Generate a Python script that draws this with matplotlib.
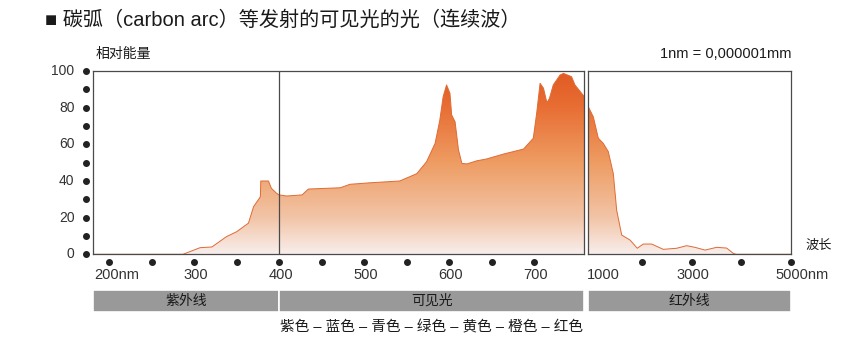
import matplotlib
matplotlib.use("Agg")
import matplotlib.pyplot as plt
from matplotlib.colors import LinearSegmentedColormap
from matplotlib.patches import Rectangle
import numpy as np

plt.rcParams['font.family'] = ['Liberation Sans', 'Noto Sans CJK SC']

# ultraviolet + visible part of the carbon arc spectrum (nm, relative energy)
uv_vis_nm = [181, 287, 307, 321, 338, 350, 364, 370, 378, 378.5, 387.5, 391, 397,
             400, 409, 427, 434.5, 472, 483.5, 507, 542, 562, 573.5, 583.5, 589,
             593, 597, 601, 603, 607, 611, 615, 621, 632.5, 644, 664, 687.5, 699,
             703, 707, 711, 715, 718, 722.5, 730.5, 734.5, 744, 748, 759]
uv_vis_energy = [0, 0, 3.6, 4, 9.6, 12.3, 17, 26, 31.4, 40, 40, 36, 33.3,
                 32.4, 31.8, 32.4, 35.6, 36.3, 38.2, 39, 40, 44, 50.5, 60.5, 73,
                 86, 92.4, 87.8, 76, 72.3, 57, 49.6, 49.3, 51, 52, 54.7, 57.4, 63.3,
                 77, 93.3, 90.6, 82.7, 85, 92.4, 97.8, 98.7, 96.9, 92.4, 86]

# infrared part
ir_nm = [915, 1016, 1117, 1217, 1318, 1419, 1487, 1588, 1755, 1902, 2023, 2192,
         2426, 2696, 2898, 3065, 3267, 3502, 3703, 3837, 3891, 5000]
ir_energy = [80.5, 75, 63.3, 60.5, 56, 44, 24, 10.5, 7.8, 3.3, 5.6, 5.6,
             2.7, 3.3, 4.7, 3.8, 2.3, 3.8, 3.4, 0.5, 0, 0]

y_labels = [0, 20, 40, 60, 80, 100]
y_dots = [0, 10, 20, 30, 40, 50, 60, 70, 80, 90, 100]

left_ticks = [200, 300, 400, 500, 600, 700]
left_tick_text = ['200nm', '300', '400', '500', '600', '700']
left_dots = [200, 250, 300, 350, 400, 450, 500, 550, 600, 650, 700]
right_ticks = [1000, 3000, 5000]
right_tick_text = ['1000', '3000', '5000nm']
right_dots = [2000, 3000, 4000, 5000]

band_names = ['紫外线', '可见光', '红外线']
band_spans = [(181, 400), (400, 759), (915, 5000)]
color_order = '紫色 – 蓝色 – 青色 – 绿色 – 黄色 – 橙色 – 红色'

grad = LinearSegmentedColormap.from_list(
    'arc', [(0.0, '#f8eeec'), (0.2, '#f2c4a6'), (0.5, '#eE9c62'),
            (0.8, '#e86e34'), (1.0, '#e05a22')])

fig = plt.figure(figsize=(8.5, 3.4), dpi=100)
W, H = 850, 340
bottom_px, top_px = 254.3, 71
ax1 = fig.add_axes([93.3 / W, 1 - bottom_px / H, (584.3 - 93.3) / W, (bottom_px - top_px) / H])
ax2 = fig.add_axes([588.3 / W, 1 - bottom_px / H, (791 - 588.3) / W, (bottom_px - top_px) / H])

frame = '#4a4a4a'
ink = '#1a1a1a'


def draw_spectrum(ax, nm, energy, xlim):
    ax.set_xlim(*xlim)
    ax.set_ylim(0, 100)
    poly = ax.fill_between(nm, energy, 0, color='none', lw=0)
    img = ax.imshow(np.linspace(0, 1, 256).reshape(-1, 1), cmap=grad, aspect='auto',
                    origin='lower', extent=(xlim[0], xlim[1], 0, 100), zorder=1)
    img.set_clip_path(poly.get_paths()[0], transform=ax.transData)
    ax.plot(nm, energy, color='#e06a34', lw=0.7, zorder=2)
    for s in ax.spines.values():
        s.set_color(frame)
        s.set_linewidth(0.9)
    ax.set_xticks([])
    ax.set_yticks([])


draw_spectrum(ax1, uv_vis_nm, uv_vis_energy, (181.5, 759))
draw_spectrum(ax2, ir_nm, ir_energy, (915, 5000))
ax1.axvline(400, color=frame, lw=0.9, zorder=3)

# y axis: dots + labels
ytr = ax1.get_yaxis_transform()
ax1.plot([-0.0155] * len(y_dots), y_dots, 'o', color='#222222', ms=4,
         transform=ytr, clip_on=False)
for v in y_labels:
    ax1.annotate(str(v), xy=(0, v), xycoords=ytr, xytext=(-13.5, 0),
                 textcoords='offset points', ha='right', va='center', fontsize=10,
                 color='#333333')

# x axis: dots + labels
for ax, dots, ticks, texts in [(ax1, left_dots, left_ticks, left_tick_text),
                               (ax2, right_dots, right_ticks, right_tick_text)]:
    xtr = ax.get_xaxis_transform()
    ax.plot(dots, [-0.042] * len(dots), 'o', color='#222222', ms=4,
            transform=xtr, clip_on=False)
    for t, s in zip(ticks, texts):
        if s.endswith('nm'):
            dx, ha = -11, 'left'
        elif t == 1000:
            dx, ha = -4, 'left'
        else:
            dx, ha = 1, 'center'
        ax.annotate(s, xy=(t, 0), xycoords=xtr, xytext=(dx, -15),
                    textcoords='offset points', ha=ha, va='center',
                    fontsize=10.5, color='#333333')

# region band under the axis
for name, (a, b) in zip(band_names, band_spans):
    ax = ax2 if a >= 900 else ax1
    xtr = ax.get_xaxis_transform()
    ax.add_patch(Rectangle((a, -0.313), b - a, 0.118, transform=xtr, clip_on=False,
                           facecolor='#999999', edgecolor='white', lw=1.2))
    ax.text((a + b) / 2, -0.254, name, transform=xtr, ha='center', va='center',
            fontsize=10, color=ink)

fig.text(432 / W, 1 - 327 / H, color_order, ha='center', va='center', fontsize=10.5,
         color=ink)

fig.text(45 / W, 1 - 20 / H, '■ 碳弧（carbon arc）等发射的可见光的光（连续波）',
         ha='left', va='center', fontsize=14.5, color=ink)
fig.text(96 / W, 1 - 54 / H, '相对能量', ha='left', va='center', fontsize=10,
         color=ink)
fig.text(792 / W, 1 - 54 / H, '1nm = 0,000001mm', ha='right', va='center',
         fontsize=10.5, color=ink)
fig.text(805 / W, 1 - 246 / H, '波长', ha='left', va='center', fontsize=9.5,
         color=ink)

fig.savefig('out.png', dpi=100)
